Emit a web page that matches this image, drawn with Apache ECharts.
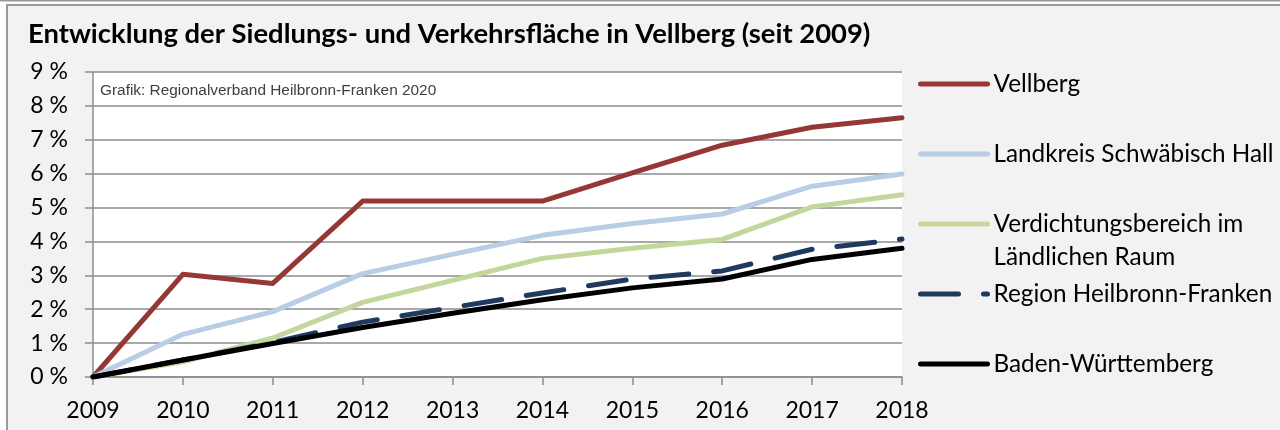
<!DOCTYPE html>
<html>
<head>
<meta charset="utf-8">
<script src="https://cdn.jsdelivr.net/npm/echarts@6/dist/echarts.min.js"></script>
<style>
html,body{margin:0;padding:0;background:#fff;}
#chart{width:1280px;height:430px;}
</style>
</head>
<body>
<div id="chart"></div>
<script>
const years = ['2009','2010','2011','2012','2013','2014','2015','2016','2017','2018'];
const yTicks = [0,1,2,3,4,5,6,7,8,9];
const seriesNames = ['Vellberg','Landkreis Schwäbisch Hall','Verdichtungsbereich im Ländlichen Raum','Region Heilbronn-Franken','Baden-Württemberg'];
const vellberg    = [0, 3.03, 2.76, 5.19, 5.19, 5.19, 6.02, 6.84, 7.37, 7.65];
const landkreis   = [0, 1.26, 1.93, 3.05, 3.62, 4.18, 4.53, 4.81, 5.63, 5.99];
const verdichtung = [0, 0.45, 1.15, 2.20, 2.85, 3.50, 3.80, 4.06, 5.02, 5.38];
const region      = [0, 0.50, 1.02, 1.62, 2.05, 2.48, 2.89, 3.13, 3.77, 4.07];
const bw          = [0, 0.50, 0.99, 1.46, 1.88, 2.28, 2.63, 2.89, 3.47, 3.80];

const FONT = 'Lato';
const chart = echarts.init(document.getElementById('chart'), null, {renderer:'canvas'});

function mkLegend(name, top){
  return {
    data:[name], left:918, top:top, orient:'vertical', padding:0,
    itemWidth:67, itemHeight:10,
    formatter: name === seriesNames[2] ? '\u00A0\nVerdichtungsbereich im\nLändlichen Raum' : '{name}',
    textStyle:{fontFamily:FONT, fontSize:24.3, color:'#000', lineHeight:33, padding:[0,0,0,1]},
    itemStyle:{opacity:0},
    lineStyle:{width:5, opacity:1},
    selectedMode:false
  };
}

const lineW = 5;
chart.setOption({
  backgroundColor:'#F2F2F2',
  animation:false,
  title:{text:'Entwicklung der Siedlungs- und Verkehrsfläche in Vellberg (seit 2009)', left:23, top:16,
    textStyle:{fontFamily:FONT, fontWeight:'bold', fontSize:27.4, color:'#000'}},
  graphic:[
    {type:'rect', shape:{x:0,y:0,width:1280,height:5}, style:{fill:'#fff'}, silent:true},
    {type:'rect', shape:{x:0,y:0,width:6,height:430}, style:{fill:'#fff'}, silent:true},
    {type:'line', shape:{x1:0,y1:0.5,x2:1280,y2:0.5}, style:{stroke:'#999',lineWidth:2}, silent:true},
    {type:'line', shape:{x1:6,y1:5,x2:1280,y2:5}, style:{stroke:'#999',lineWidth:2}, silent:true},
    {type:'line', shape:{x1:7,y1:5,x2:7,y2:430}, style:{stroke:'#999',lineWidth:2}, silent:true},
    {type:'text', left:100, top:83, z:10, style:{text:'Grafik: Regionalverband Heilbronn-Franken 2020', fontFamily:'Liberation Sans', fontSize:15.4, fill:'#404040'}}
  ],
  legend:[
    mkLegend(seriesNames[0], 67.5),
    mkLegend(seriesNames[1], 137.5),
    mkLegend(seriesNames[2], 174.5),
    mkLegend(seriesNames[3], 277.5),
    mkLegend(seriesNames[4], 347.5)
  ],
  grid:{left:93, right:378, top:72, bottom:53, containLabel:false, outerBoundsMode:'none', show:true, backgroundColor:'#fff', borderWidth:0},
  xAxis:{type:'category', data:years, boundaryGap:false,
    axisLine:{show:true, lineStyle:{color:'#8c8c8c', width:1.5}},
    axisTick:{show:true, length:8, lineStyle:{color:'#8c8c8c', width:1.5}, alignWithLabel:true},
    axisLabel:{fontFamily:FONT, fontSize:23, color:'#000', margin:22, interval:0},
    splitLine:{show:false}},
  yAxis:{type:'value', min:0, max:9, interval:1,
    axisLine:{show:true, lineStyle:{color:'#8c8c8c', width:1.5}},
    axisTick:{show:true, length:8, lineStyle:{color:'#8c8c8c', width:1.5}},
    axisLabel:{fontFamily:FONT, fontSize:23, color:'#000', margin:25, formatter:'{value} %'},
    splitLine:{show:true, lineStyle:{color:'#8c8c8c', width:1.5}}},
  series:[
    {name:seriesNames[0], type:'line', data:vellberg, symbol:'none', lineStyle:{color:'#953735', width:lineW, cap:'round', join:'round'}, itemStyle:{color:'#953735'}},
    {name:seriesNames[1], type:'line', data:landkreis, symbol:'none', lineStyle:{color:'#B9CDE5', width:lineW, cap:'round', join:'round'}, itemStyle:{color:'#B9CDE5'}},
    {name:seriesNames[2], type:'line', data:verdichtung, symbol:'none', lineStyle:{color:'#C3D69B', width:lineW, cap:'round', join:'round'}, itemStyle:{color:'#C3D69B'}},
    {name:seriesNames[3], type:'line', data:region, symbol:'none', lineStyle:{color:'#1F3A5F', width:lineW, type:[38,25], cap:'round', join:'round'}, itemStyle:{color:'#1F3A5F'}},
    {name:seriesNames[4], type:'line', data:bw, symbol:'none', lineStyle:{color:'#000', width:lineW, cap:'round', join:'round'}, itemStyle:{color:'#000'}}
  ]
});
</script>
</body>
</html>
